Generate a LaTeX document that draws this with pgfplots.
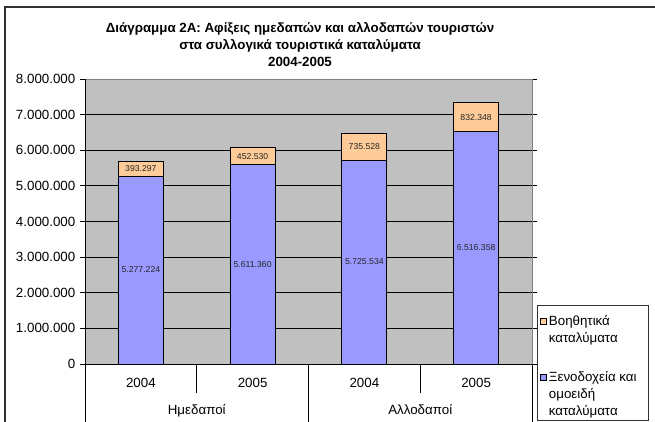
\documentclass[border=0pt]{standalone}
\usepackage{fontspec}
\setmainfont{Liberation Sans}
\usepackage{pgfplots}
\usepackage{pgfplotstable}
\pgfplotsset{compat=1.18}
\definecolor{bgray}{HTML}{C0C0C0}
\definecolor{hotel}{HTML}{9999FF}
\definecolor{aux}{HTML}{FFCC99}
\definecolor{frame}{HTML}{303030}
\pgfplotstableread{
x h a hl al
0 5277224 393297 5.277.224 393.297
1 5611360 452530 5.611.360 452.530
2 5725534 735528 5.725.534 735.528
3 6516358 832348 6.516.358 832.348
}\data
\begin{document}
\begin{tikzpicture}
\useasboundingbox (0pt,0pt) rectangle (491.25pt,315.75pt);
% outer chart border (cropped)
\fill[frame] (3pt,-1pt) rectangle (4.5pt,311pt);
\fill[frame] (3pt,309.5pt) rectangle (492pt,311pt);
% title
\node[align=center, font={\bfseries\fontsize{10}{12.75}\selectfont}] at (225pt,282.5pt) {Διάγραμμα 2A: Αφίξεις ημεδαπών και αλλοδαπών τουριστών\\στα συλλογικά τουριστικά καταλύματα\\2004-2005};
\begin{axis}[
  at={(63.75pt,42.75pt)}, anchor=south west,
  scale only axis, width=335.25pt, height=213.75pt,
  xmin=-0.5, xmax=3.5, ymin=0, ymax=8000000,
  ybar stacked, bar width=33.75pt,
  axis background/.style={fill=bgray},
  axis line style={draw=black!50, line width=0.75pt},
  xtick={0,1,2,3}, xticklabels={2004,2005,2004,2005},
  x tick style={draw=none},
  every x tick label/.append style={anchor=base, yshift=-14pt},
  ytick={0,1000000,...,8000000},
  scaled y ticks=false,
  y tick label style={/pgf/number format/.cd, fixed, precision=0, 1000 sep={.}, assume math mode=true},
  y tick style={draw=black, line width=0.6pt},
  tick align=outside, major tick length=3.75pt,
  ymajorgrids, grid style={draw=black, line width=0.6pt},
  clip=false,
]
\addplot[fill=hotel, draw=black, line width=0.75pt] table[x=x, y=h] {\data};
\addplot[fill=aux, draw=black, line width=0.75pt] table[x=x, y=a] {\data};
\draw[black, line width=0.75pt] (rel axis cs:0,0) -- (rel axis cs:0,1);
\draw[black, line width=0.75pt] (rel axis cs:0,0) -- (rel axis cs:1,0);
\draw[black, line width=0.6pt] (axis cs:-0.5,0) -- ++(0pt,-43.5pt);
\draw[black, line width=0.6pt] (axis cs:1.5,0) -- ++(0pt,-43.5pt);
\draw[black, line width=0.6pt] (axis cs:3.5,0) -- ++(0pt,-43.5pt);
\draw[black, line width=0.6pt] (axis cs:0.5,0) -- ++(0pt,-21.75pt);
\draw[black, line width=0.6pt] (axis cs:2.5,0) -- ++(0pt,-21.75pt);
\node[anchor=base] at (axis cs:0.5,0) [yshift=-37.8pt] {Ημεδαποί};
\node[anchor=base] at (axis cs:2.5,0) [yshift=-37.8pt] {Αλλοδαποί};
\end{axis}
\begin{axis}[
  at={(63.75pt,42.75pt)}, anchor=south west,
  scale only axis, width=335.25pt, height=213.75pt,
  xmin=-0.5, xmax=3.5, ymin=0, ymax=8000000,
  hide axis, clip=false,
  nodes near coords, point meta=explicit symbolic,
  every node near coord/.append style={anchor=center, font=\fontsize{6.5}{7}\selectfont, text=black!85},
]
\addplot[draw=none, mark=none] table[x=x, y expr=\thisrow{h}/2, meta=hl] {\data};
\addplot[draw=none, mark=none] table[x=x, y expr=\thisrow{h}+\thisrow{a}/2, meta=al] {\data};
\end{axis}
% legend
\draw[black!80, line width=0.6pt] (402.75pt,0.6pt) rectangle (486pt,87pt);
\draw[black, line width=0.5pt, fill=aux] (405.4pt,72.4pt) rectangle (409.9pt,76.9pt);
\draw[black, line width=0.5pt, fill=hotel] (405.4pt,30.4pt) rectangle (409.9pt,34.9pt);
\node[anchor=base west, inner sep=0pt] at (411.5pt,71.3pt) {Βοηθητικά};
\node[anchor=base west, inner sep=0pt] at (411.5pt,58.6pt) {καταλύματα};
\node[anchor=base west, inner sep=0pt] at (411.5pt,29.3pt) {Ξενοδοχεία και};
\node[anchor=base west, inner sep=0pt] at (411.5pt,16.6pt) {ομοειδή};
\node[anchor=base west, inner sep=0pt] at (411.5pt,4.2pt) {καταλύματα};
\end{tikzpicture}
\end{document}
